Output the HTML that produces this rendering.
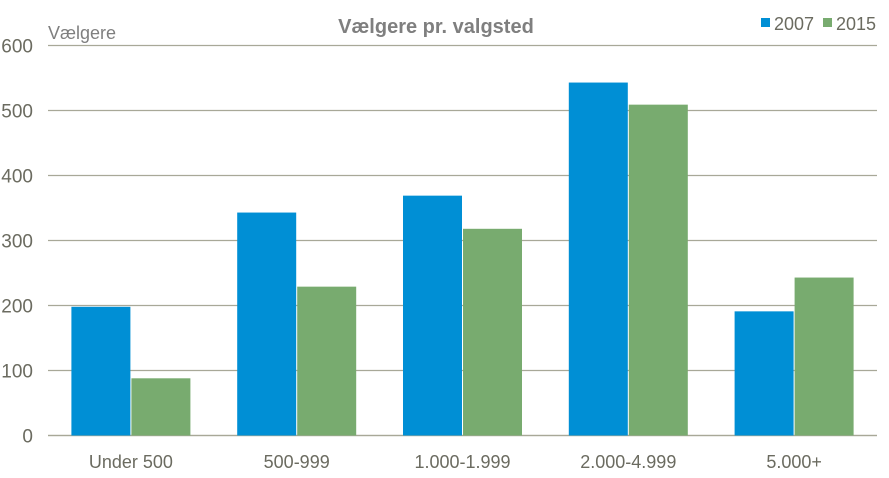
<!DOCTYPE html>
<html><head><meta charset="utf-8"><style>
html,body{margin:0;padding:0;background:#fff;}
svg{display:block;}
text{font-family:"Liberation Sans Narrow","Liberation Sans",sans-serif;}
</style></head><body>
<svg id="chart" width="889" height="478" xmlns="http://www.w3.org/2000/svg">
<g id="grid"></g>
<g id="yt"></g>
<g id="bars"></g>
<g id="xt"></g>
<text x="436" y="33" text-anchor="middle" font-size="20" font-weight="bold" fill="#7f7f7f" style="font-family:'Liberation Sans',sans-serif">Vælgere pr. valgsted</text>
<text x="48" y="39" font-size="18" fill="#7f7f7f">Vælgere</text>
<g>
<rect x="761" y="18" width="9" height="9" fill="#008fd5"></rect>
<text x="774" y="30" font-size="18" fill="#6b6b60">2007</text></g>
<g>
<rect x="823" y="18" width="9" height="9" fill="#78ab6f"></rect>
<text x="836" y="30" font-size="18" fill="#6b6b60">2015</text></g>
</svg>
<script>
const categories=["Under 500","500-999","1.000-1.999","2.000-4.999","5.000+"];
const series2007=[198,343,369,543,191];
const series2015=[88,229,318,509,243];
const yTicks=[0,100,200,300,400,500,600];
const NS="http://www.w3.org/2000/svg";
const x0=48,x1=877,yBase=435.5,yTop=45.5,yMax=600;
const y=v=>yBase-(v/yMax)*(yBase-yTop);
const band=(x1-x0)/categories.length;
function mk(tag,attrs,parent){const e=document.createElementNS(NS,tag);for(const k in attrs)e.setAttribute(k,attrs[k]);parent.appendChild(e);return e;}
const grid=document.getElementById('grid'),yt=document.getElementById('yt'),bars=document.getElementById('bars'),xt=document.getElementById('xt');
yTicks.forEach(t=>{
  const l=mk('line',{x1:x0,x2:x1,y1:y(t),y2:y(t),stroke:'#a8a898','stroke-width':1.3},grid);
  
  
  const tx=mk('text',{x:33,y:y(t)+7,'text-anchor':'end','font-size':19,fill:'#6b6b60'},yt);
  tx.textContent=t;
  
  
});
const bw=59;
categories.forEach((c,i)=>{
  const cx=x0+band*(i+0.5);
  const b1=mk('rect',{x:cx-bw-0.5,y:y(series2007[i]),width:bw,height:yBase-y(series2007[i]),fill:'#008fd5'},bars);
  
  
  const b2=mk('rect',{x:cx+0.5,y:y(series2015[i]),width:bw,height:yBase-y(series2015[i]),fill:'#78ab6f'},bars);
  
  
  const tx=mk('text',{x:cx,y:468,'text-anchor':'middle','font-size':18,fill:'#6b6b60'},xt);
  tx.textContent=c;
  
  
});
mk('line',{x1:x0,x2:x1,y1:yBase,y2:yBase,stroke:'#a8a898','stroke-width':1.3},grid);
</script>
</body></html>
